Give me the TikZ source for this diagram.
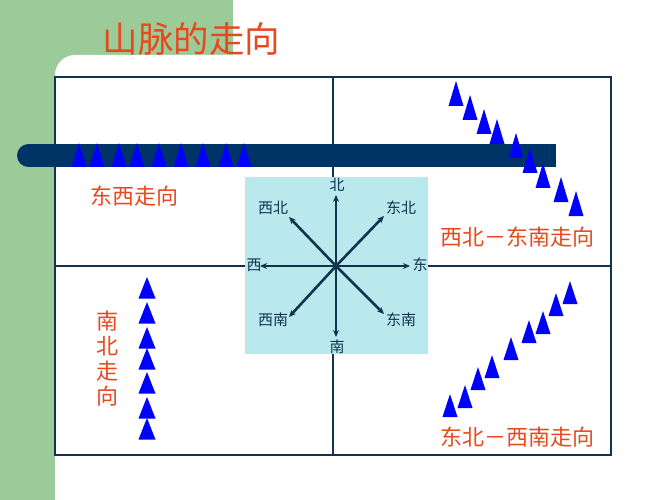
\documentclass[tikz,border=0pt]{standalone}
\usepackage{fontspec}
\setmainfont{Noto Sans CJK SC}
\usetikzlibrary{arrows.meta}
\definecolor{grn}{RGB}{155,203,152}
\definecolor{barnavy}{RGB}{0,51,102}
\definecolor{linenavy}{RGB}{18,50,80}
\definecolor{cyanbg}{RGB}{185,233,236}
\definecolor{redtxt}{RGB}{232,72,30}
\definecolor{mtblue}{RGB}{0,0,255}
\newcommand{\mtri}[4]{\fill[mtblue] (#1,#2) -- ++(-#4/2,#3) -- ++(#4,0) -- cycle;}
\begin{document}
\begin{tikzpicture}[x=1pt,y=-1pt,
  redlabel/.style={text=redtxt,inner sep=0pt,font=\fontsize{22}{25}\selectfont},
  dirlabel/.style={text=linenavy,inner sep=0pt,font=\fontsize{15}{16}\selectfont},
  comparrow/.style={draw=linenavy,line width=2.6pt,-{Stealth[length=7pt,width=6pt]}},
  framebox/.style={draw=linenavy,line width=1.4pt}]
\useasboundingbox (0,0) rectangle (667,500);
\fill[white] (0,0) rectangle (667,500);
\fill[grn] (0,0) rectangle (233,500);
\fill[white,rounded corners=20pt] (55,55) rectangle (720,560);
\fill[white] (233,-5) rectangle (680,56);
% title
\node[text=redtxt,inner sep=0pt,font=\fontsize{35.5}{40}\selectfont] (title) at (191.5,39) {山脉的走向};
% frame
\draw[framebox] (55,77) rectangle (611,455);
\draw[framebox] (333,77) -- (333,455);
\draw[framebox] (55,266) -- (611,266);
% compass
\fill[cyanbg] (245,177) rectangle (428,354);
\coordinate (c) at (336,266);
\coordinate (tn) at (336,195);
\coordinate (ts) at (336,337);
\coordinate (tw) at (260,266);
\coordinate (te) at (410,266);
\coordinate (tnw) at (289,217);
\coordinate (tne) at (384,216);
\coordinate (tsw) at (289,317);
\coordinate (tse) at (384,314);
\foreach \t in {tn,ts,tw,te,tnw,tne,tsw,tse} \draw[comparrow] (c) -- (\t);
\node[dirlabel] (ln) at (337,185) {北};
\node[dirlabel] (ls) at (337,347) {南};
\node[dirlabel] (lw) at (254,265) {西};
\node[dirlabel] (le) at (420,265) {东};
\node[dirlabel] (lnw) at (273,208) {西北};
\node[dirlabel] (lne) at (401,208) {东北};
\node[dirlabel] (lsw) at (273,320) {西南};
\node[dirlabel] (lse) at (401,320) {东南};
% bar
\fill[barnavy] (28.5,144) rectangle (556,167);
\fill[barnavy] (28.5,155.5) circle (11.5);
\foreach \x in {79,97,119,137,159,181,203,226,244} {\mtri{\x}{143}{24}{15}}
% NW-SE
\foreach \x/\y in {456/81,470/95,484/109,497/119,516/133,530/148,543/163,561/177,576/191} {\mtri{\x}{\y}{25}{15}}
% NE-SW
\foreach \x/\y in {450/394,465/385,478/367,492/355,511/337,529/320,543/311,556/293,570/281} {\mtri{\x}{\y}{23}{15}}
% N-S
\foreach \y in {277,302,327,348,372,397,418} {\mtri{147}{\y}{21.5}{17}}
% labels
\node[redlabel] (ew) at (134.5,196) {东西走向};
\node[redlabel] (nwse) at (517.5,237) {西北－东南走向};
\node[redlabel] (nesw) at (517.5,437) {东北－西南走向};
\node[redlabel,align=center] (ns) at (107,358.5) {南\\北\\走\\向};
\end{tikzpicture}
\end{document}
